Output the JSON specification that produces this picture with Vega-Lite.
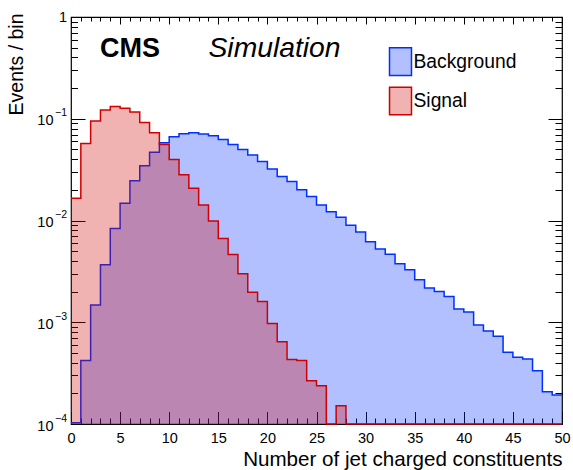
{
  "$schema": "https://vega.github.io/schema/vega-lite/v6.json",
  "width": 491,
  "height": 407,
  "autosize": "none",
  "padding": {"left": 71, "top": 17, "right": 11, "bottom": 46},
  "background": "white",
  "config": {
    "font": "Liberation Sans",
    "view": {"stroke": "black", "strokeWidth": 1.2},
    "axis": {"grid": false, "domain": false, "labelFont": "Liberation Sans", "titleFont": "Liberation Sans", "labelColor": "black", "titleColor": "black", "tickColor": "black", "tickWidth": 1, "titleFontWeight": "normal", "labelFlush": false, "labelOverlap": false, "labelBound": false}
  },
  "data": {"values": [
    {"s": "Background", "x": 0, "v": 0.000103}, {"s": "Background", "x": 1, "v": 0.00042}, {"s": "Background", "x": 2, "v": 0.00148}, {"s": "Background", "x": 3, "v": 0.00367}, {"s": "Background", "x": 4, "v": 0.00835},
    {"s": "Background", "x": 5, "v": 0.01477}, {"s": "Background", "x": 6, "v": 0.0246}, {"s": "Background", "x": 7, "v": 0.0346}, {"s": "Background", "x": 8, "v": 0.0469}, {"s": "Background", "x": 9, "v": 0.0581},
    {"s": "Background", "x": 10, "v": 0.0667}, {"s": "Background", "x": 11, "v": 0.0713}, {"s": "Background", "x": 12, "v": 0.073}, {"s": "Background", "x": 13, "v": 0.071}, {"s": "Background", "x": 14, "v": 0.0679},
    {"s": "Background", "x": 15, "v": 0.0626}, {"s": "Background", "x": 16, "v": 0.0559}, {"s": "Background", "x": 17, "v": 0.0499}, {"s": "Background", "x": 18, "v": 0.044}, {"s": "Background", "x": 19, "v": 0.0379},
    {"s": "Background", "x": 20, "v": 0.0321}, {"s": "Background", "x": 21, "v": 0.0271}, {"s": "Background", "x": 22, "v": 0.0242}, {"s": "Background", "x": 23, "v": 0.02}, {"s": "Background", "x": 24, "v": 0.0172},
    {"s": "Background", "x": 25, "v": 0.01422}, {"s": "Background", "x": 26, "v": 0.01219}, {"s": "Background", "x": 27, "v": 0.01074}, {"s": "Background", "x": 28, "v": 0.009}, {"s": "Background", "x": 29, "v": 0.00773},
    {"s": "Background", "x": 30, "v": 0.00618}, {"s": "Background", "x": 31, "v": 0.00525}, {"s": "Background", "x": 32, "v": 0.00465}, {"s": "Background", "x": 33, "v": 0.00376}, {"s": "Background", "x": 34, "v": 0.00328},
    {"s": "Background", "x": 35, "v": 0.00261}, {"s": "Background", "x": 36, "v": 0.00217}, {"s": "Background", "x": 37, "v": 0.002}, {"s": "Background", "x": 38, "v": 0.00179}, {"s": "Background", "x": 39, "v": 0.00135},
    {"s": "Background", "x": 40, "v": 0.00126}, {"s": "Background", "x": 41, "v": 0.00094}, {"s": "Background", "x": 42, "v": 0.00082}, {"s": "Background", "x": 43, "v": 0.00073}, {"s": "Background", "x": 44, "v": 0.000508},
    {"s": "Background", "x": 45, "v": 0.000453}, {"s": "Background", "x": 46, "v": 0.000436}, {"s": "Background", "x": 47, "v": 0.000334}, {"s": "Background", "x": 48, "v": 0.000208}, {"s": "Background", "x": 49, "v": 0.000193},
    {"s": "Background", "x": 50, "v": 0.000193},
    {"s": "Signal", "x": 0, "v": 0.01656}, {"s": "Signal", "x": 1, "v": 0.0572}, {"s": "Signal", "x": 2, "v": 0.0951}, {"s": "Signal", "x": 3, "v": 0.1222}, {"s": "Signal", "x": 4, "v": 0.1321},
    {"s": "Signal", "x": 5, "v": 0.1271}, {"s": "Signal", "x": 6, "v": 0.1168}, {"s": "Signal", "x": 7, "v": 0.0917}, {"s": "Signal", "x": 8, "v": 0.073}, {"s": "Signal", "x": 9, "v": 0.0559},
    {"s": "Signal", "x": 10, "v": 0.0397}, {"s": "Signal", "x": 11, "v": 0.0282}, {"s": "Signal", "x": 12, "v": 0.0208}, {"s": "Signal", "x": 13, "v": 0.01422}, {"s": "Signal", "x": 14, "v": 0.00986},
    {"s": "Signal", "x": 15, "v": 0.00665}, {"s": "Signal", "x": 16, "v": 0.00462}, {"s": "Signal", "x": 17, "v": 0.00299}, {"s": "Signal", "x": 18, "v": 0.00197}, {"s": "Signal", "x": 19, "v": 0.0016},
    {"s": "Signal", "x": 20, "v": 0.00097}, {"s": "Signal", "x": 21, "v": 0.000642}, {"s": "Signal", "x": 22, "v": 0.00043}, {"s": "Signal", "x": 23, "v": 0.00042}, {"s": "Signal", "x": 24, "v": 0.000266},
    {"s": "Signal", "x": 25, "v": 0.000237}, {"s": "Signal", "x": 26, "v": 0}, {"s": "Signal", "x": 27, "v": 0.000151}, {"s": "Signal", "x": 28, "v": 0}, {"s": "Signal", "x": 29, "v": 0},
    {"s": "Signal", "x": 30, "v": 0}, {"s": "Signal", "x": 31, "v": 0}, {"s": "Signal", "x": 32, "v": 0}, {"s": "Signal", "x": 33, "v": 0}, {"s": "Signal", "x": 34, "v": 0},
    {"s": "Signal", "x": 35, "v": 0}, {"s": "Signal", "x": 36, "v": 0}, {"s": "Signal", "x": 37, "v": 0}, {"s": "Signal", "x": 38, "v": 0}, {"s": "Signal", "x": 39, "v": 0},
    {"s": "Signal", "x": 40, "v": 0}, {"s": "Signal", "x": 41, "v": 0}, {"s": "Signal", "x": 42, "v": 0}, {"s": "Signal", "x": 43, "v": 0}, {"s": "Signal", "x": 44, "v": 0},
    {"s": "Signal", "x": 45, "v": 0}, {"s": "Signal", "x": 46, "v": 0}, {"s": "Signal", "x": 47, "v": 0}, {"s": "Signal", "x": 48, "v": 0}, {"s": "Signal", "x": 49, "v": 0},
    {"s": "Signal", "x": 50, "v": 0}
  ]},
  "layer": [
    {
      "transform": [{"filter": "datum.s === 'Background'"}],
      "mark": {"type": "area", "interpolate": "step-after", "fillOpacity": 0.3, "line": {"strokeWidth": 1.5}},
      "encoding": {
        "x": {"field": "x", "type": "quantitative", "scale": {"domain": [0, 50], "nice": false, "zero": false},
          "axis": {"orient": "bottom", "title": null, "labels": false, "values": [0,1,2,3,4,5,6,7,8,9,10,11,12,13,14,15,16,17,18,19,20,21,22,23,24,25,26,27,28,29,30,31,32,33,34,35,36,37,38,39,40,41,42,43,44,45,46,47,48,49,50],
            "tickSize": {"condition": {"test": "datum.value % 5 === 0", "value": -12.5}, "value": -6}}},
        "y": {"field": "v", "type": "quantitative", "stack": null, "scale": {"type": "log", "domain": [0.0001, 1], "clamp": true, "nice": false},
          "axis": {"orient": "left", "title": null, "labels": false, "values": [0.0001,0.0002,0.0003,0.0004,0.0005,0.0006,0.0007,0.0008,0.0009,0.001,0.002,0.003,0.004,0.005,0.006,0.007,0.008,0.009,0.01,0.02,0.03,0.04,0.05,0.06,0.07,0.08,0.09,0.1,0.2,0.3,0.4,0.5,0.6,0.7,0.8,0.9,1],
            "tickSize": {"condition": {"test": "abs(log(datum.value)/LN10 - round(log(datum.value)/LN10)) < 0.001", "value": -14}, "value": -6.5}}},
        "color": {"field": "s", "type": "nominal",
          "scale": {"domain": ["Background", "Signal"], "range": ["#0030ff", "#d00000"]},
          "legend": {"orient": "none", "legendX": 314.5, "legendY": 29.7, "title": null, "padding": 0,
            "symbolType": "M-0.794,-1H0.794V1H-0.794Z", "symbolSize": 767, "symbolStrokeWidth": 1.5,
            "labelFont": "Liberation Sans", "labelFontSize": 19.3, "labelColor": "black", "labelOffset": -2, "rowPadding": 5.3,
            "encode": {"symbols": {"update": {"fillOpacity": {"value": 0.3}, "stroke": {"scale": "color", "field": "value"}, "strokeWidth": {"value": 1.5}}}}}}
      }
    },
    {
      "transform": [{"filter": "datum.s === 'Signal'"}],
      "mark": {"type": "area", "interpolate": "step-after", "fillOpacity": 0.3, "line": {"strokeWidth": 1.5}},
      "encoding": {
        "x": {"field": "x", "type": "quantitative",
          "axis": {"orient": "top", "title": null, "labels": false, "values": [0,1,2,3,4,5,6,7,8,9,10,11,12,13,14,15,16,17,18,19,20,21,22,23,24,25,26,27,28,29,30,31,32,33,34,35,36,37,38,39,40,41,42,43,44,45,46,47,48,49,50],
            "tickSize": {"condition": {"test": "datum.value % 5 === 0", "value": -7}, "value": -4}}},
        "y": {"field": "v", "type": "quantitative", "stack": null,
          "axis": {"orient": "right", "title": null, "labels": false, "values": [0.0001,0.0002,0.0003,0.0004,0.0005,0.0006,0.0007,0.0008,0.0009,0.001,0.002,0.003,0.004,0.005,0.006,0.007,0.008,0.009,0.01,0.02,0.03,0.04,0.05,0.06,0.07,0.08,0.09,0.1,0.2,0.3,0.4,0.5,0.6,0.7,0.8,0.9,1],
            "tickSize": {"condition": {"test": "abs(log(datum.value)/LN10 - round(log(datum.value)/LN10)) < 0.001", "value": -14}, "value": -7}}},
        "color": {"field": "s", "type": "nominal"}
      }
    },
    {
      "data": {"values": [{"label": "CMS"}]},
      "mark": {"type": "text", "align": "left", "baseline": "alphabetic", "font": "Liberation Sans", "fontWeight": "bold", "fontSize": 27, "color": "black"},
      "encoding": {
        "x": {"datum": 2.95, "type": "quantitative",
          "axis": {"orient": "bottom", "ticks": false, "values": [0,5,10,15,20,25,30,35,40,45,50], "labelFontSize": 14.5, "labelPadding": 7,
            "title": "Number of jet charged constituents", "titleFontSize": 20.6, "titleX": 491, "titleY": 41, "titleAlign": "right", "titleBaseline": "alphabetic", "titleAnchor": null}},
        "y": {"datum": 0.402, "type": "quantitative",
          "axis": {"orient": "left", "ticks": false, "values": [0.0001, 0.001, 0.01, 0.1], "labelExpr": "'10'", "labelFontSize": 14.5, "labelPadding": 18, "labelOffset": 2,
            "title": "Events / bin", "titleFontSize": 19.5, "titleAngle": 270, "titleX": -54.5, "titleY": -4, "titleAlign": "right", "titleBaseline": "middle", "titleAnchor": null}},
        "text": {"field": "label"}
      }
    },
    {
      "data": {"values": [{"label": "Simulation"}]},
      "mark": {"type": "text", "align": "left", "baseline": "alphabetic", "font": "Liberation Sans", "fontStyle": "italic", "fontSize": 28.3, "color": "black"},
      "encoding": {
        "x": {"datum": 14.0, "type": "quantitative", "axis": null},
        "y": {"datum": 0.402, "type": "quantitative",
          "axis": {"orient": "left", "ticks": false, "title": null, "values": [0.0001, 0.001, 0.01, 0.1, 1],
            "labelExpr": "datum.value >= 0.5 ? '1' : '−' + round(-log(datum.value)/LN10)",
            "labelFontSize": {"condition": {"test": "datum.value >= 0.5", "value": 14.5}, "value": 10.5},
            "labelOffset": {"condition": {"test": "datum.value >= 0.5", "value": 0}, "value": -6},
            "labelPadding": 4.5}},
        "text": {"field": "label"}
      }
    }
  ],
  "resolve": {"axis": {"x": "independent", "y": "independent"}}
}
